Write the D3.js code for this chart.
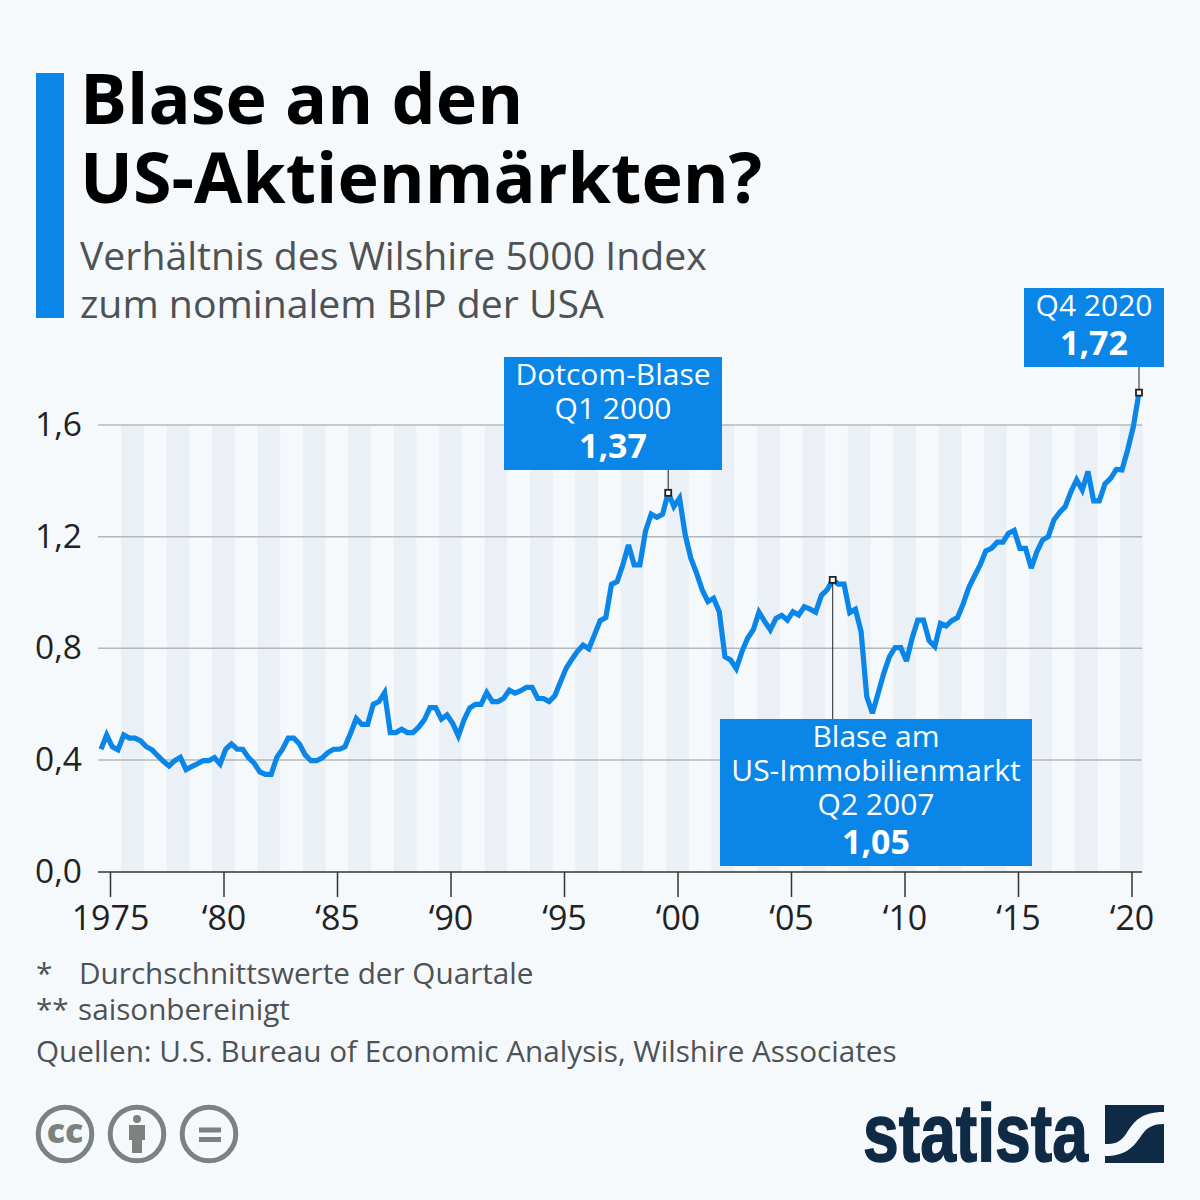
<!DOCTYPE html>
<html>
<head>
<meta charset="utf-8">
<script src="https://cdn.jsdelivr.net/npm/d3@7/dist/d3.min.js"></script>
<style>
html, body { margin: 0; padding: 0; background: #f5f9fc; }
svg { display: block; font-family: "Open Sans", sans-serif; }
</style>
</head>
<body>
<svg id="chart" width="1200" height="1200"></svg>
<script>
// quarterly ratio, Q1 1975 to Q4 2020
var ratio = [
  .438, .489, .447, .436, .489, .478, .478, .468, .447, .436, .415, .395, .378, .397, .409, .365, .376, .386, .397, .397,
  .408, .385, .439, .457, .438, .438, .408, .388, .357, .348, .348, .409, .438, .478, .478, .457, .418, .397, .397, .407,
  .426, .438, .438, .447, .495, .548, .527, .527, .599, .609, .641, .498, .498, .510, .498, .498, .517, .543, .587, .587,
  .546, .561, .531, .486, .543, .586, .599, .599, .641, .609, .609, .621, .650, .639, .648, .660, .660, .620, .620, .609,
  .630, .679, .728, .760, .789, .811, .798, .848, .899, .910, 1.029, 1.039, 1.099, 1.170, 1.099, 1.099, 1.220, 1.281, 1.269, 1.280,
  1.357, 1.308, 1.338, 1.206, 1.122, 1.069, 1.009, .967, .979, .931, .770, .758, .727, .788, .836, .866, .929, .896, .866, .907,
  .918, .901, .931, .919, .949, .940, .929, .989, 1.009, 1.045, 1.030, 1.030, .928, .940, .860, .627, .567, .638, .710, .770,
  .802, .802, .754, .836, .901, .901, .827, .806, .889, .880, .899, .910, .959, 1.018, 1.059, 1.099, 1.149, 1.158, 1.180, 1.180,
  1.212, 1.222, 1.158, 1.158, 1.087, 1.146, 1.188, 1.200, 1.260, 1.287, 1.308, 1.361, 1.403, 1.367, 1.433, 1.328, 1.328, 1.389, 1.409, 1.441,
  1.439, 1.511, 1.594, 1.716
];
var yTicks = [0, 0.4, 0.8, 1.2, 1.6];
var xTicks = [1975, 1980, 1985, 1990, 1995, 2000, 2005, 2010, 2015, 2020];
var xLabels = ['1975', '‘80', '‘85', '‘90', '‘95', '‘00', '‘05', '‘10', '‘15', '‘20'];
var noteMarks = ['*', '**', ''];
var notes = ['Durchschnittswerte der Quartale', 'saisonbereinigt', 'Quellen: U.S. Bureau of Economic Analysis, Wilshire Associates'];
var callouts = [
  { i: 100, lines: ['Dotcom-Blase', 'Q1 2000'], value: '1,37', x0: 504, x1: 722, y0: 357, y1: 470 },
  { i: 129, lines: ['Blase am', 'US-Immobilienmarkt', 'Q2 2007'], value: '1,05', x0: 720, x1: 1032, y0: 719, y1: 866 },
  { i: 183, lines: ['Q4 2020'], value: '1,72', x0: 1024, x1: 1164, y0: 288, y1: 367 }
];

var BLUE = '#0a85e8', GREY = '#4e5254', DARK = '#0f2a45', ICON = '#7c8280';
var svg = d3.select('#chart');

// the line runs by quarter, the ticks by year
var x = d3.scaleLinear().domain([1975, 2020]).range([110, 1131.5]);
var xQuarter = d3.scaleLinear().domain([0, 183]).range([101, 1139]);
var y = d3.scaleLinear().domain([0, 1.6]).range([871.5, 425]);

// header
svg.append('rect').attr('x', 36).attr('y', 73).attr('width', 28).attr('height', 245).attr('fill', BLUE);
svg.selectAll('text.title').data(['Blase an den', 'US-Aktienmärkten?']).enter().append('text')
  .attr('class', 'title').attr('x', 80).attr('y', function(d, i) { return 124 + i * 79; })
  .attr('font-size', 70).attr('font-weight', 700).attr('fill', '#000').text(function(d) { return d; });
svg.selectAll('text.sub').data(['Verhältnis des Wilshire 5000 Index', 'zum nominalem BIP der USA']).enter().append('text')
  .attr('class', 'sub').attr('x', 80).attr('y', function(d, i) { return 270 + i * 48; })
  .attr('font-size', 39.2).attr('fill', GREY).text(function(d) { return d; });

// stripes every other year
var bands = d3.range(1975.5, 2020, 2);
svg.selectAll('rect.band').data(bands).enter().append('rect').attr('class', 'band')
  .attr('x', function(d) { return x(d); }).attr('y', y(1.6))
  .attr('width', function(d) { return x(d + 1) - x(d); }).attr('height', y(0) - y(1.6))
  .attr('fill', '#ebf0f7');

// grid
svg.selectAll('line.grid').data(yTicks.slice(1)).enter().append('line').attr('class', 'grid')
  .attr('x1', 98).attr('x2', 1142).attr('y1', function(d) { return y(d); }).attr('y2', function(d) { return y(d); })
  .attr('stroke', '#b4b8ba').attr('stroke-width', 1.5);

svg.selectAll('text.ylab').data(yTicks).enter().append('text').attr('class', 'ylab')
  .attr('x', 35).attr('y', function(d) { return y(d) + 11; })
  .attr('font-size', 33.5).attr('fill', '#222').text(function(d) { return d3.format('.1f')(d).replace('.', ','); });

// x axis
var xAxis = d3.axisBottom(x).tickValues(xTicks).tickSize(25).tickPadding(9)
  .tickFormat(function(d, i) { return xLabels[i]; });
var gx = svg.append('g').attr('transform', 'translate(0,872)').call(xAxis);
gx.select('.domain').attr('d', 'M98,0H1142').attr('stroke', '#333').attr('stroke-width', 1.5);
gx.selectAll('.tick line').attr('stroke', '#333').attr('stroke-width', 1.5);
gx.selectAll('.tick text').attr('font-size', 34).attr('font-family', '"Open Sans", sans-serif').attr('fill', '#222');

// line
var line = d3.line().x(function(d, i) { return xQuarter(i); }).y(function(d) { return y(d); });
svg.append('path').datum(ratio).attr('d', line).attr('fill', 'none').attr('stroke', BLUE)
  .attr('stroke-width', 5.2).attr('stroke-linejoin', 'miter').attr('stroke-miterlimit', 3);

// callouts
callouts.forEach(function(c) {
  var px = xQuarter(c.i), py = y(ratio[c.i]);
  var below = c.y0 > py;
  svg.append('line').attr('x1', px).attr('x2', px).attr('y1', py).attr('y2', below ? c.y0 : c.y1)
    .attr('stroke', '#222').attr('stroke-width', 1);
  svg.append('rect').attr('x', px - 3).attr('y', py - 3).attr('width', 6).attr('height', 6)
    .attr('fill', '#fff').attr('stroke', '#222').attr('stroke-width', 1.8);
  svg.append('rect').attr('x', c.x0).attr('y', c.y0).attr('width', c.x1 - c.x0).attr('height', c.y1 - c.y0).attr('fill', BLUE);
  var cx = (c.x0 + c.x1) / 2;
  c.lines.forEach(function(s, i) {
    svg.append('text').attr('x', cx).attr('y', c.y0 + 28 + i * 34).attr('text-anchor', 'middle')
      .attr('font-size', 30).attr('fill', '#fff').text(s);
  });
  svg.append('text').attr('x', cx).attr('y', c.y1 - 12).attr('text-anchor', 'middle')
    .attr('font-size', 34).attr('font-weight', 700).attr('fill', '#fff').text(c.value);
});

// notes
var noteY = [984, 1020, 1062], noteX = [79, 78, 36];
svg.selectAll('text.mark').data(noteMarks).enter().append('text').attr('class', 'mark')
  .attr('x', 36).attr('y', function(d, i) { return noteY[i]; })
  .attr('font-size', 29.7).attr('fill', GREY).text(function(d) { return d; });
svg.selectAll('text.note').data(notes).enter().append('text').attr('class', 'note')
  .attr('x', function(d, i) { return noteX[i]; }).attr('y', function(d, i) { return noteY[i]; })
  .attr('font-size', 29.7).attr('fill', GREY).text(function(d) { return d; });

// cc icons
var icons = svg.append('g').attr('fill', 'none').attr('stroke', ICON).attr('stroke-width', 5);
[65, 137, 209].forEach(function(cx) {
  icons.append('circle').attr('cx', cx).attr('cy', 1134).attr('r', 26.8);
});
svg.append('text').attr('x', 65).attr('y', 1143).attr('text-anchor', 'middle').attr('font-size', 34)
  .attr('font-weight', 800).attr('fill', ICON).text('cc');
svg.append('circle').attr('cx', 137).attr('cy', 1119).attr('r', 4).attr('fill', ICON);
svg.append('path').attr('d', 'M129,1125H145V1140H142V1153H132V1140H129Z').attr('fill', ICON);
svg.append('path').attr('d', 'M199,1127.5H221V1132.5H199ZM199,1137H221V1142H199Z').attr('fill', ICON);

// logo
svg.append('text').attr('x', 863).attr('y', 1161).attr('font-size', 81).attr('font-weight', 700)
  .attr('font-family', '"Liberation Sans Narrow", "Liberation Sans", sans-serif')
  .attr('fill', DARK).attr('stroke', DARK).attr('stroke-width', 1.5)
  .attr('textLength', 225).attr('lengthAdjust', 'spacingAndGlyphs').text('statista');
svg.append('path').attr('fill', DARK)
  .attr('d', 'M1105,1105H1164V1112C1140,1112 1134,1122 1126,1134C1120,1143 1114,1144 1105,1144Z');
svg.append('path').attr('fill', DARK)
  .attr('d', 'M1164,1124V1163H1105V1156C1125,1156 1133,1148 1141,1136C1147,1127 1153,1124 1164,1124Z');
</script>
</body>
</html>
